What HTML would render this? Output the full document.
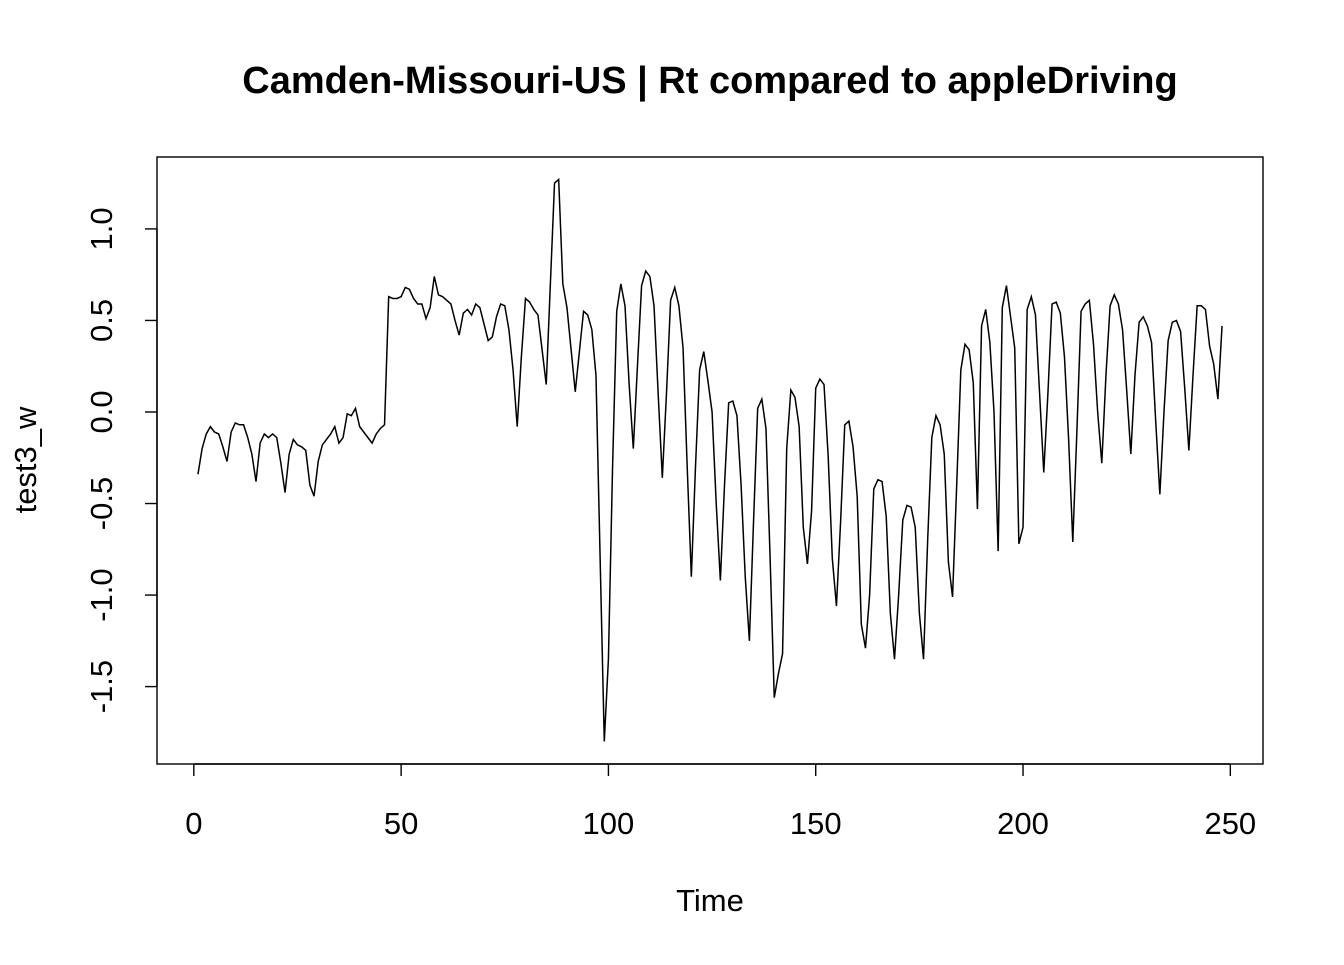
<!DOCTYPE html>
<html><head><meta charset="utf-8"><style>
html,body{margin:0;padding:0;background:#fff;}
svg text{font-family:"Liberation Sans",Arial,sans-serif;}
</style></head><body>
<svg id="chart" width="1344" height="960" viewBox="0 0 1344 960" xmlns="http://www.w3.org/2000/svg">
<rect width="1344" height="960" fill="#fff"/>
<text x="710" y="93" text-anchor="middle" font-size="38" font-weight="bold">Camden-Missouri-US | Rt compared to appleDriving</text>
<rect x="157" y="157" width="1106" height="607" fill="none" stroke="#000" stroke-width="1.4"/>
<g id="xaxis"></g>
<g id="yaxis"></g>
<path id="line" fill="none" stroke="#000" stroke-width="1.5"/>
<text x="710" y="911" text-anchor="middle" font-size="31">Time</text>
<text transform="translate(36,460) rotate(-90)" text-anchor="middle" font-size="31">test3_w</text>
</svg>
<script>
const values = [-0.34,-0.20,-0.12,-0.08,-0.11,-0.12,-0.19,-0.27,-0.11,-0.06,-0.07,-0.07,-0.14,-0.23,-0.38,-0.17,-0.12,-0.14,-0.12,-0.14,
-0.28,-0.44,-0.23,-0.15,-0.18,-0.19,-0.21,-0.40,-0.46,-0.27,-0.18,-0.15,-0.12,-0.08,-0.17,-0.14,-0.01,-0.02,0.02,-0.08,
-0.11,-0.14,-0.17,-0.12,-0.09,-0.07,0.63,0.62,0.62,0.63,0.68,0.67,0.62,0.59,0.59,0.51,0.57,0.74,0.64,0.63,
0.61,0.59,0.50,0.42,0.54,0.56,0.53,0.59,0.57,0.48,0.39,0.41,0.52,0.59,0.58,0.45,0.23,-0.08,0.30,0.62,
0.60,0.56,0.53,0.34,0.15,0.70,1.25,1.27,0.70,0.57,0.34,0.11,0.33,0.55,0.53,0.45,0.20,-0.80,-1.80,-1.35,
-0.30,0.55,0.70,0.58,0.15,-0.20,0.25,0.69,0.77,0.74,0.58,0.10,-0.36,0.10,0.61,0.68,0.58,0.35,-0.30,-0.90,
-0.30,0.23,0.33,0.17,0.00,-0.50,-0.92,-0.40,0.05,0.06,-0.02,-0.40,-0.90,-1.25,-0.60,0.02,0.07,-0.09,-0.80,-1.56,
-1.43,-1.32,-0.20,0.12,0.08,-0.08,-0.63,-0.83,-0.54,0.13,0.18,0.15,-0.24,-0.80,-1.06,-0.60,-0.07,-0.05,-0.19,-0.46,
-1.16,-1.29,-1.00,-0.42,-0.37,-0.38,-0.57,-1.10,-1.35,-1.00,-0.59,-0.51,-0.52,-0.63,-1.10,-1.35,-0.70,-0.14,-0.02,-0.07,
-0.23,-0.82,-1.01,-0.40,0.23,0.37,0.34,0.16,-0.53,0.47,0.56,0.38,0.00,-0.76,0.57,0.69,0.52,0.35,-0.72,-0.63,
0.56,0.63,0.53,0.10,-0.33,0.10,0.59,0.60,0.54,0.30,-0.15,-0.71,-0.10,0.55,0.59,0.61,0.37,0.00,-0.28,0.20,
0.58,0.64,0.59,0.45,0.12,-0.23,0.20,0.49,0.52,0.47,0.38,-0.05,-0.45,0.00,0.39,0.49,0.50,0.44,0.13,-0.21,
0.20,0.58,0.58,0.56,0.36,0.26,0.07,0.47];
const xTicks = [0,50,100,150,200,250];
const yTicks = [-1.5,-1.0,-0.5,0.0,0.5,1.0];
const yTickLabels = ["-1.5","-1.0","-0.5","0.0","0.5","1.0"];

const NS="http://www.w3.org/2000/svg";
const L=157,R=1263,T=157,B=764;
const n=values.length;
const xmin=1,xmax=n,xp=(xmax-xmin)*0.04;
const vmin=Math.min(...values),vmax=Math.max(...values),yp=(vmax-vmin)*0.04;
function xs(v){return L+(v-(xmin-xp))/((xmax+xp)-(xmin-xp))*(R-L);}
function ys(v){return B-(v-(vmin-yp))/((vmax+yp)-(vmin-yp))*(B-T);}
let d="";
values.forEach((v,i)=>{d+=(i?"L":"M")+xs(i+1).toFixed(2)+","+ys(v).toFixed(2);});
document.getElementById('line').setAttribute('d',d);
const xa=document.getElementById('xaxis');
function mk(tag,attrs,parent){const e=document.createElementNS(NS,tag);for(const k in attrs)e.setAttribute(k,attrs[k]);parent.appendChild(e);return e;}
mk('line',{x1:xs(xTicks[0]),x2:xs(xTicks[xTicks.length-1]),y1:B,y2:B,stroke:'#000','stroke-width':1.4},xa);
xTicks.forEach(t=>{
  const ln=mk('line',{x1:xs(t),x2:xs(t),y1:B,y2:B+12,stroke:'#000','stroke-width':1.4},xa);
  
  
  const tx=mk('text',{x:xs(t),y:834,'text-anchor':'middle','font-size':31},xa);
  tx.textContent=String(t);
  
  
});
const ya=document.getElementById('yaxis');
mk('line',{x1:L,x2:L,y1:ys(yTicks[0]),y2:ys(yTicks[yTicks.length-1]),stroke:'#000','stroke-width':1.4},ya);
yTicks.forEach((t,i)=>{
  const ln=mk('line',{x1:L-12,x2:L,y1:ys(t),y2:ys(t),stroke:'#000','stroke-width':1.4},ya);
  
  
  const tx=mk('text',{transform:'translate(112,'+ys(t)+') rotate(-90)','text-anchor':'middle','font-size':31},ya);
  tx.textContent=yTickLabels[i];
  
  
});
</script>
</body></html>
